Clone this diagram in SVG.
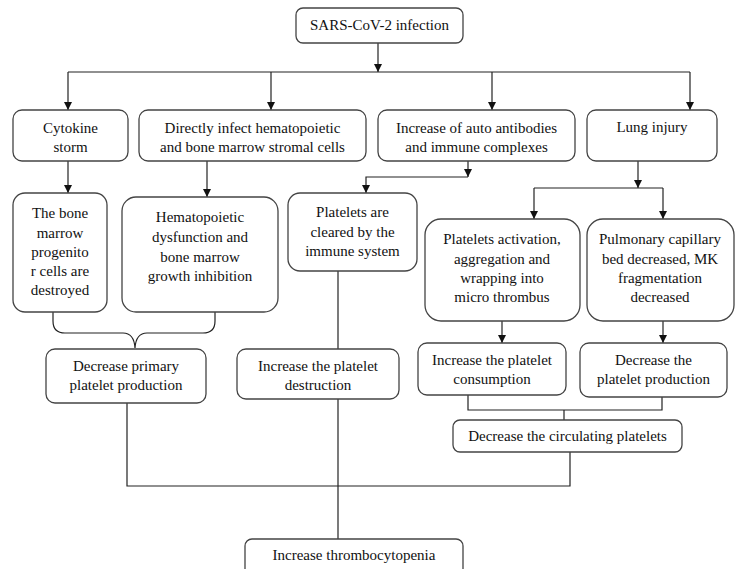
<svg xmlns="http://www.w3.org/2000/svg" width="735" height="569" viewBox="0 0 735 569">
<defs>
<marker id="ah" viewBox="0 0 10 10" refX="10" refY="5" markerWidth="8" markerHeight="8" markerUnits="userSpaceOnUse" orient="auto">
<path d="M0,0 L10,5 L0,10 z" fill="#111"/>
</marker>
<style>
.box{fill:#fff;stroke:#444;stroke-width:1.3}
.t{font-family:'Liberation Serif','DejaVu Serif',serif;font-size:15px;fill:#111;text-anchor:middle}
.c{fill:none;stroke:#222;stroke-width:1.2}
.a{fill:none;stroke:#222;stroke-width:1.2;marker-end:url(#ah)}
</style>
</defs>
<rect width="735" height="569" fill="#fff"/>
<g id="connectors">
<line class="a" x1="378" y1="43" x2="378" y2="72"/>
<line class="c" x1="68" y1="72" x2="690" y2="72"/>
<line class="a" x1="68" y1="72" x2="68" y2="110"/>
<line class="a" x1="271" y1="72" x2="271" y2="110"/>
<line class="a" x1="492" y1="72" x2="492" y2="110"/>
<line class="a" x1="690" y1="72" x2="690" y2="110"/>
<line class="a" x1="68" y1="161" x2="68" y2="193"/>
<line class="a" x1="207" y1="161" x2="207" y2="197"/>
<line class="a" x1="468" y1="161" x2="468" y2="177"/>
<polyline class="a" points="468,177 366,177 366,193"/>
<line class="a" x1="638" y1="161" x2="638" y2="188"/>
<line class="c" x1="534" y1="188" x2="663" y2="188"/>
<line class="a" x1="534" y1="188" x2="534" y2="219"/>
<line class="a" x1="663" y1="188" x2="663" y2="219"/>
<path class="c" d="M53,312 L53,321 Q53,333 65,333 L123,333 Q134,333 135,348 Q136,333 147,333 L203,333 Q215,333 215,321 L215,312"/>
<line class="c" x1="338" y1="271" x2="338" y2="349"/>
<line class="a" x1="502" y1="321" x2="502" y2="343"/>
<line class="a" x1="663" y1="321" x2="663" y2="343"/>
<polyline class="c" points="468,395 468,410 662,410 662,397"/>
<line class="c" x1="564" y1="410" x2="564" y2="420"/>
<line class="c" x1="338" y1="399" x2="338" y2="539"/>
<polyline class="c" points="127,403 127,486 570,486 570,452"/>
</g>
<g id="n-sars"><rect class="box" x="296" y="8" width="167" height="35" rx="7"/><text class="t" x="379.5" y="30">SARS-CoV-2 infection</text></g>
<g id="n-cytokine"><rect class="box" x="13" y="110" width="115" height="51" rx="9"/><text class="t" x="70.5" y="133">Cytokine</text><text class="t" x="70.5" y="152">storm</text></g>
<g id="n-direct"><rect class="box" x="139" y="110" width="227" height="51" rx="9"/><text class="t" x="252.5" y="133">Directly infect hematopoietic</text><text class="t" x="252.5" y="152">and bone marrow stromal cells</text></g>
<g id="n-auto"><rect class="box" x="378" y="110" width="197" height="51" rx="9"/><text class="t" x="476.5" y="133">Increase of auto antibodies</text><text class="t" x="476.5" y="152">and immune complexes</text></g>
<g id="n-lung"><rect class="box" x="587" y="110" width="130" height="51" rx="9"/><text class="t" x="652" y="132">Lung injury</text></g>
<g id="n-bone"><rect class="box" x="13" y="193" width="94" height="119" rx="12"/><text class="t" x="60" y="218">The bone</text><text class="t" x="60" y="238">marrow</text><text class="t" x="60" y="257">progenito</text><text class="t" x="60" y="276">r cells  are</text><text class="t" x="60" y="295">destroyed</text></g>
<g id="n-hema"><rect class="box" x="122" y="197" width="156" height="115" rx="14"/><text class="t" x="200" y="222">Hematopoietic</text><text class="t" x="200" y="242">dysfunction and</text><text class="t" x="200" y="262">bone marrow</text><text class="t" x="200" y="281">growth inhibition</text></g>
<g id="n-cleared"><rect class="box" x="288" y="193" width="129" height="78" rx="12"/><text class="t" x="352.5" y="217">Platelets are</text><text class="t" x="352.5" y="237">cleared by the</text><text class="t" x="352.5" y="256">immune system</text></g>
<g id="n-activation"><rect class="box" x="425" y="219" width="155" height="102" rx="16"/><text class="t" x="502" y="244">Platelets activation,</text><text class="t" x="502" y="264">aggregation and</text><text class="t" x="502" y="283">wrapping into</text><text class="t" x="502" y="302">micro thrombus</text></g>
<g id="n-pulmonary"><rect class="box" x="587" y="219" width="147" height="102" rx="16"/><text class="t" x="660" y="244">Pulmonary capillary</text><text class="t" x="660" y="264">bed decreased, MK</text><text class="t" x="660" y="283">fragmentation</text><text class="t" x="660" y="302">decreased</text></g>
<g id="n-primary"><rect class="box" x="46" y="349" width="160" height="54" rx="9"/><text class="t" x="126" y="371">Decrease primary</text><text class="t" x="126" y="390">platelet production</text></g>
<g id="n-destruction"><rect class="box" x="237" y="349" width="162" height="50" rx="9"/><text class="t" x="318" y="371">Increase the platelet</text><text class="t" x="318" y="390">destruction</text></g>
<g id="n-consumption"><rect class="box" x="418" y="343" width="148" height="52" rx="9"/><text class="t" x="492" y="365">Increase the platelet</text><text class="t" x="492" y="384">consumption</text></g>
<g id="n-production"><rect class="box" x="580" y="343" width="147" height="54" rx="9"/><text class="t" x="653.5" y="365">Decrease the</text><text class="t" x="653.5" y="384">platelet production</text></g>
<g id="n-circulating"><rect class="box" x="453" y="420" width="229" height="32" rx="7"/><text class="t" x="567.5" y="441">Decrease the circulating platelets</text></g>
<g id="n-thrombo"><rect class="box" x="245" y="539" width="218" height="40" rx="7"/><text class="t" x="354" y="560">Increase thrombocytopenia</text></g>
</svg>
